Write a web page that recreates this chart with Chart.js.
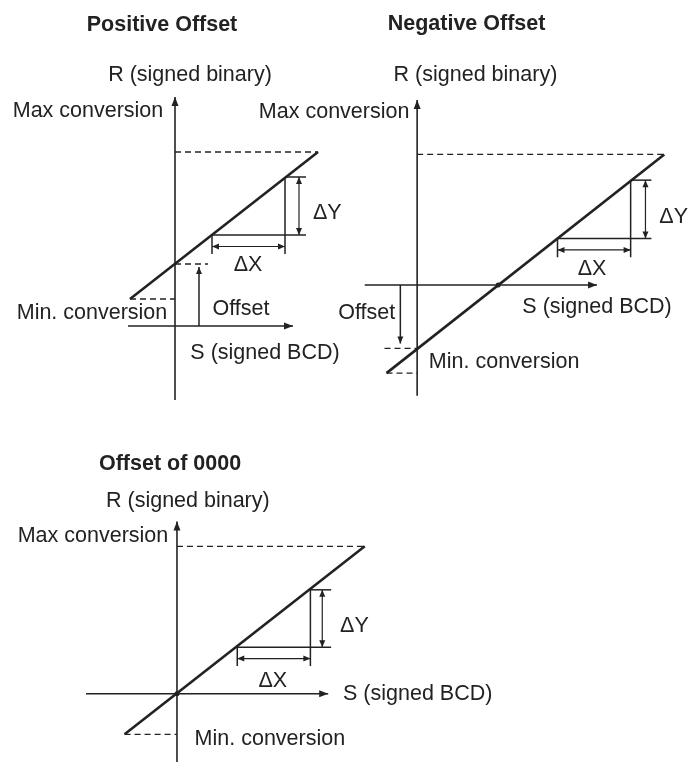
<!DOCTYPE html>
<html>
<head>
<meta charset="utf-8">
<script src="https://cdn.jsdelivr.net/npm/chart.js@4"></script>
<style>
  body { margin: 0; background: #fff; }
  #wrap { position: relative; width: 689px; height: 766px; }
  canvas { position: absolute; left: 0; top: 0; }
</style>
</head>
<body>
<div id="wrap">
  <canvas id="pos" width="689" height="766"></canvas>
  <canvas id="neg" width="689" height="766"></canvas>
  <canvas id="zero" width="689" height="766"></canvas>
</div>
<script>
// values in diagram units (S across, R up), origin where the axes cross
const titles = ['Positive Offset', 'Negative Offset', 'Offset of 0000'];

const posConvS = [-4.5, 14.3];
const posConvR = [2.7, 17.4];
const posOffset = 6.2;
const posStepS = [3.7, 11.0];
const posStepR = [9.1, 14.9];

const negConvS = [-3.1, 25.0];
const negConvR = [-8.9, 13.2];
const negOffset = -6.4;
const negZeroS = 8.2;
const negStepS = [14.2, 21.6];
const negStepR = [4.7, 10.6];

const zeroConvS = [-5.3, 19.0];
const zeroConvR = [-4.1, 14.9];
const zeroStepS = [6.1, 13.5];
const zeroStepR = [4.7, 10.5];

const INK = '#222';
const FONT = '"Liberation Sans", Arial, sans-serif';

function seg(s0, r0, s1, r1, width, dash, arrow) {
    return {
        data: [{x: s0, y: r0}, {x: s1, y: r1}],
        showLine: true,
        pointRadius: 0,
        borderColor: INK,
        borderWidth: width,
        borderDash: dash || [],
        arrow: arrow || null
    };
}

function head(ctx, x1, y1, x0, y0, len, half) {
    let a = Math.atan2(y1 - y0, x1 - x0);
    let c = Math.cos(a), s = Math.sin(a);
    ctx.beginPath();
    ctx.moveTo(x1, y1);
    ctx.lineTo(x1 - len * c + half * s, y1 - len * s - half * c);
    ctx.lineTo(x1 - len * c - half * s, y1 - len * s + half * c);
    ctx.closePath();
    ctx.fill();
}

function makeOverlay(labels) {
    return {
        id: 'overlay',
        afterDatasetsDraw(chart) {
            const ctx = chart.ctx;
            const xs = chart.scales.x, ys = chart.scales.y;
            ctx.save();
            ctx.fillStyle = INK;
            for (const ds of chart.data.datasets) {
                if (!ds.arrow) continue;
                let p = ds.data.map(d => [xs.getPixelForValue(d.x), ys.getPixelForValue(d.y)]);
                let big = ds.arrow.size === 'big';
                let len = big ? 9 : 7, half = big ? 3.5 : 3;
                if (ds.arrow.end) head(ctx, p[1][0], p[1][1], p[0][0], p[0][1], len, half);
                if (ds.arrow.start) head(ctx, p[0][0], p[0][1], p[1][0], p[1][1], len, half);
            }
            ctx.textBaseline = 'middle';
            for (const l of labels) {
                ctx.font = (l.bold ? 'bold ' : '') + '21.5px ' + FONT;
                ctx.textAlign = l.align || 'center';
                ctx.fillText(l.text, xs.getPixelForValue(l.s), ys.getPixelForValue(l.r));
            }
            ctx.restore();
        }
    };
}

function buildPanel(id, p) {
    let ds = [];
    ds.push(seg(0, p.rAxis[0], 0, p.rAxis[1], 1.6, null, {end: true, size: 'big'}));
    ds.push(seg(p.sAxis[0], 0, p.sAxis[1], 0, 1.6, null, {end: true, size: 'big'}));
    ds.push(seg(p.convS[0], p.convR[0], p.convS[1], p.convR[1], 2.6));
    // max / min conversion guides
    ds.push(seg(0, p.convR[1], p.convS[1], p.convR[1], 1.3, [6, 4]));
    ds.push(seg(p.convS[0], p.convR[0], 0, p.convR[0], 1.3, [6, 4]));
    // step triangle with dimension arrows
    let [s0, s1] = p.stepS, [r0, r1] = p.stepR;
    ds.push(seg(s1, r1, s1, r0 - 1.9, 1.5));
    ds.push(seg(s0, r0, s1 + 2.1, r0, 1.5));
    ds.push(seg(s1, r1, s1 + 2.1, r1, 1.5));
    ds.push(seg(s0, r0, s0, r0 - 1.9, 1.5));
    ds.push(seg(s1 + p.dyGap, r0, s1 + p.dyGap, r1, 1.2, null, {start: true, end: true}));
    ds.push(seg(s0, r0 - 1.15, s1, r0 - 1.15, 1.2, null, {start: true, end: true}));
    if (p.offset !== undefined) {
        ds.push(seg(p.offsetDash[0], p.offset, p.offsetDash[1], p.offset, 1.3, [6, 4]));
        ds.push(seg(p.offsetArrowS, 0, p.offsetArrowS, p.offsetTip, 1.5, null, {end: true}));
    }
    if (p.dot) {
        ds.push({
            data: [{x: p.dot[0], y: p.dot[1]}],
            showLine: false,
            pointRadius: 2.5,
            pointBackgroundColor: INK,
            pointBorderWidth: 0
        });
    }
    new Chart(document.getElementById(id), {
        type: 'scatter',
        data: {datasets: ds},
        options: {
            responsive: false,
            animation: false,
            events: [],
            layout: {padding: 0},
            plugins: {legend: {display: false}, tooltip: {enabled: false}},
            scales: {
                x: {type: 'linear', display: false, min: p.xRange[0], max: p.xRange[1]},
                y: {type: 'linear', display: false, min: p.yRange[0], max: p.yRange[1]}
            }
        },
        plugins: [makeOverlay(p.labels)]
    });
}

buildPanel('pos', {
    xRange: [-17.5, 51.4], yRange: [-44.0, 32.6],
    rAxis: [-7.4, 22.9], sAxis: [-4.7, 11.8],
    convS: posConvS, convR: posConvR,
    stepS: posStepS, stepR: posStepR, dyGap: 1.4,
    offset: posOffset, offsetDash: [0, 3.3], offsetArrowS: 2.4, offsetTip: posOffset - 0.3,
    labels: [
        {text: titles[0], s: -1.3, r: 30.1, bold: true},
        {text: 'R (signed binary)', s: 1.5, r: 25.1},
        {text: 'Max conversion', s: -8.7, r: 21.5},
        {text: 'Min. conversion', s: -8.3, r: 1.3},
        {text: 'Offset', s: 6.6, r: 1.7},
        {text: 'S (signed BCD)', s: 9.0, r: -2.7},
        {text: 'ΔY', s: 13.8, r: 11.3, align: 'left'},
        {text: 'ΔX', s: 7.3, r: 6.1}
    ]
});

buildPanel('neg', {
    xRange: [-41.8, 27.1], yRange: [-48.2, 28.4],
    rAxis: [-11.2, 18.7], sAxis: [-5.3, 18.2],
    convS: negConvS, convR: negConvR,
    stepS: negStepS, stepR: negStepR, dyGap: 1.5,
    offset: negOffset, offsetDash: [-3.3, 0], offsetArrowS: -1.7, offsetTip: negOffset + 0.5,
    dot: [negZeroS, 0],
    labels: [
        {text: titles[1], s: 5.0, r: 26.4, bold: true},
        {text: 'R (signed binary)', s: 5.9, r: 21.2},
        {text: 'Max conversion', s: -8.4, r: 17.5},
        {text: 'Offset', s: -5.1, r: -2.8},
        {text: 'S (signed BCD)', s: 18.2, r: -2.2},
        {text: 'Min. conversion', s: 8.8, r: -7.8},
        {text: 'ΔY', s: 24.5, r: 6.9, align: 'left'},
        {text: 'ΔX', s: 17.7, r: 1.6}
    ]
});

buildPanel('zero', {
    xRange: [-17.5, 51.4], yRange: [-6.9, 69.7],
    rAxis: [-6.9, 17.4], sAxis: [-9.2, 15.3],
    convS: zeroConvS, convR: zeroConvR,
    stepS: zeroStepS, stepR: zeroStepR, dyGap: 1.2,
    dot: [0, 0],
    labels: [
        {text: titles[2], s: -0.7, r: 23.2, bold: true},
        {text: 'R (signed binary)', s: 1.1, r: 19.5},
        {text: 'Max conversion', s: -8.5, r: 15.9},
        {text: 'S (signed BCD)', s: 16.8, r: 0, align: 'left'},
        {text: 'Min. conversion', s: 9.4, r: -4.6},
        {text: 'ΔY', s: 16.5, r: 6.8, align: 'left'},
        {text: 'ΔX', s: 9.7, r: 1.3}
    ]
});
</script>
</body>
</html>
